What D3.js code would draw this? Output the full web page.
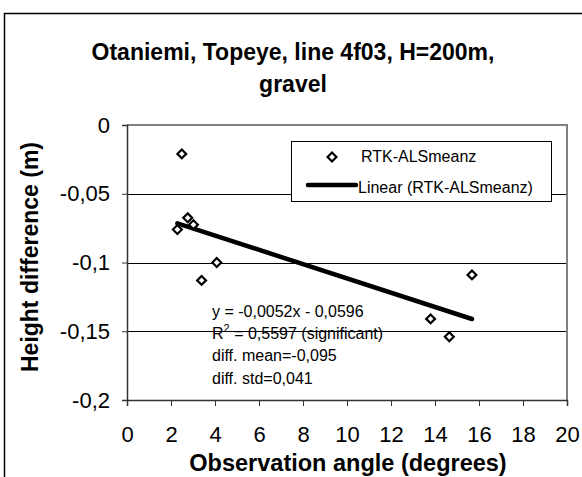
<!DOCTYPE html>
<html>
<head>
<meta charset="utf-8">
<script src="https://cdn.jsdelivr.net/npm/d3@7"></script>
<style>
  html, body { margin: 0; padding: 0; background: #fff; }
  svg { display: block; font-family: "Liberation Sans", Arial, sans-serif; }
</style>
</head>
<body>
<div id="chart"></div>
<script>
// observation angle (deg) vs height difference (m)
const angles = [2.29, 2.49, 2.76, 3.02, 3.39, 4.08, 13.8, 14.65, 15.68];
const diffs = [-0.076, -0.021, -0.0675, -0.0725, -0.113, -0.1, -0.141, -0.154, -0.109];
// linear fit endpoints (y = -0.0052x - 0.0596)
const trendX = [2.29, 15.68];
const trendY = [-0.0715, -0.1411];

const xTicks = [0, 2, 4, 6, 8, 10, 12, 14, 16, 18, 20];
const yTicks = [0, -0.05, -0.1, -0.15, -0.2];
const titleLines = ["Otaniemi, Topeye, line 4f03, H=200m,", "gravel"];
const statLines = ["y = -0,0052x - 0,0596", "= 0,5597 (significant)", "diff. mean=-0,095", "diff. std=0,041"];
const legendNames = ["RTK-ALSmeanz", "Linear (RTK-ALSmeanz)"];

const W = 582, H = 477;
const plot = { left: 127, right: 567, top: 125, bottom: 400 };

const svg = d3.select("#chart").append("svg")
  .attr("width", W)
  .attr("height", H);

// outer chart frame (runs off the right/bottom edge)
svg.append("rect")
  .attr("x", 4.5).attr("y", 13.5)
  .attr("width", 700).attr("height", 600)
  .attr("fill", "none")
  .attr("stroke", "#000")
  .attr("stroke-width", 1.5);

const x = d3.scaleLinear().domain([0, 20]).range([plot.left, plot.right]);
const y = d3.scaleLinear().domain([-0.2, 0]).range([plot.bottom, plot.top]);

// title
svg.append("g").selectAll("text")
  .data(titleLines)
  .join("text")
  .attr("x", 293)
  .attr("y", (d, i) => 60 + i * 32)
  .attr("text-anchor", "middle")
  .attr("font-weight", "bold")
  .attr("font-size", "23px")
  .text(d => d);

// gridlines
svg.append("g").selectAll("line")
  .data(yTicks.filter(d => d !== 0 && d !== -0.2))
  .join("line")
  .attr("x1", plot.left).attr("x2", plot.right)
  .attr("y1", d => Math.round(y(d)) + 0.5).attr("y2", d => Math.round(y(d)) + 0.5)
  .attr("stroke", "#000")
  .attr("stroke-width", 1);

// plot area border top & right
svg.append("path")
  .attr("d", `M${plot.left},${plot.top}H${plot.right}V${plot.bottom}`)
  .attr("fill", "none")
  .attr("stroke", "#808080")
  .attr("stroke-width", 2);

// axes
const fmt = d => String(+d.toFixed(2)).replace(".", ",");

const xAxis = svg.append("g")
  .attr("transform", `translate(0,${plot.bottom})`)
  .call(d3.axisBottom(x).tickValues(xTicks).tickSize(6).tickPadding(20.5).tickFormat(d => d));
const yAxis = svg.append("g")
  .attr("transform", `translate(${plot.left},0)`)
  .call(d3.axisLeft(y).tickValues(yTicks).tickSize(5).tickPadding(12).tickFormat(fmt));

[xAxis, yAxis].forEach(a => {
  a.select(".domain").attr("stroke", "#333").attr("stroke-width", 1.5);
  a.selectAll(".tick line").attr("stroke", "#333");
  a.selectAll(".tick text")
    .attr("font-size", "22px")
    .attr("font-family", "Liberation Sans, Arial, sans-serif")
    .attr("fill", "#000");
});

// axis titles
svg.append("text")
  .attr("x", 348).attr("y", 471)
  .attr("text-anchor", "middle")
  .attr("font-weight", "bold")
  .attr("font-size", "23.5px")
  .text("Observation angle (degrees)");

svg.append("text")
  .attr("transform", `translate(38,257) rotate(-90)`)
  .attr("text-anchor", "middle")
  .attr("font-weight", "bold")
  .attr("font-size", "23px")
  .text("Height difference (m)");

// trend line
const pts = trendX.map((d, i) => [d, trendY[i]]);
svg.append("path")
  .datum(pts)
  .attr("fill", "none")
  .attr("stroke", "#000")
  .attr("stroke-width", 4.5)
  .attr("stroke-linecap", "round")
  .attr("d", d3.line().x(d => x(d[0])).y(d => y(d[1])));

// diamond markers
const diamond = d3.symbol().type(d3.symbolDiamond2).size(50);
svg.append("g").selectAll("path")
  .data(angles.map((d, i) => [d, diffs[i]]))
  .join("path")
  .attr("transform", d => `translate(${x(d[0])},${y(d[1])})`)
  .attr("d", diamond)
  .attr("fill", "#fff")
  .attr("stroke", "#000")
  .attr("stroke-width", 2.2);

// statistics annotation
const stats = svg.append("g").attr("font-size", "16px");
statLines.forEach((t, i) => {
  const tx = stats.append("text")
    .attr("x", 212)
    .attr("y", 317 + i * 22.2);
  if (i === 1) {
    tx.append("tspan").text("R");
    tx.append("tspan").attr("dy", -7).attr("font-size", "11px").text("2");
    tx.append("tspan").attr("dy", 7).text(" " + t);
  } else {
    tx.text(t);
  }
});

// legend
const lg = svg.append("g");
lg.append("rect")
  .attr("x", 291.5).attr("y", 141.5)
  .attr("width", 260).attr("height", 60)
  .attr("fill", "#fff")
  .attr("stroke", "#000")
  .attr("stroke-width", 1);
lg.append("path")
  .attr("transform", "translate(332,157)")
  .attr("d", diamond)
  .attr("fill", "#fff")
  .attr("stroke", "#000")
  .attr("stroke-width", 2.2);
lg.append("line")
  .attr("x1", 308).attr("x2", 356)
  .attr("y1", 185).attr("y2", 185)
  .attr("stroke", "#000")
  .attr("stroke-width", 4.5)
  .attr("stroke-linecap", "round");
lg.selectAll("text.lg")
  .data(legendNames)
  .join("text")
  .attr("class", "lg")
  .attr("x", (d, i) => i === 0 ? 361 : 358)
  .attr("y", (d, i) => i === 0 ? 162 : 193)
  .attr("font-size", "16px")
  .text(d => d);
</script>
</body>
</html>
